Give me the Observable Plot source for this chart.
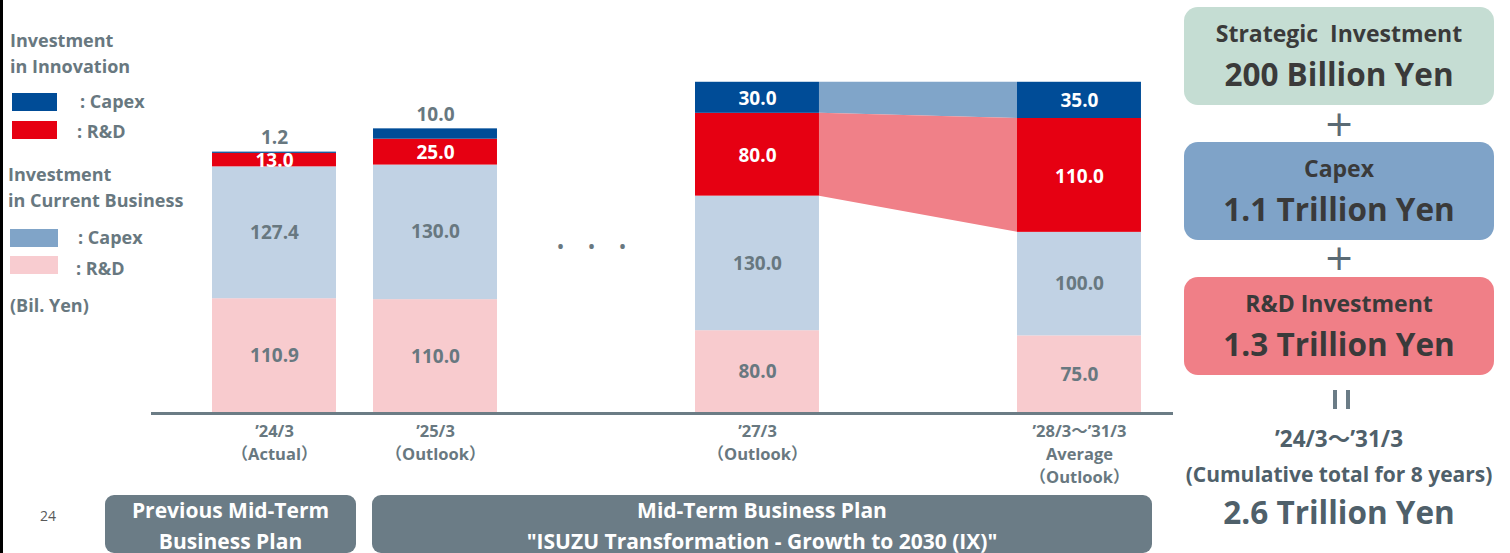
<!DOCTYPE html>
<html>
<head>
<meta charset="utf-8">
<script src="https://cdn.jsdelivr.net/npm/d3@7"></script>
<script src="https://cdn.jsdelivr.net/npm/@observablehq/plot@0.6"></script>
<style>
  html, body { margin: 0; padding: 0; background: #fff; }
  body { width: 1510px; height: 553px; overflow: hidden; position: relative; font-family: "Open Sans", "Noto Sans CJK JP", sans-serif; }
  #border { position: absolute; left: 0; top: 0; width: 3px; height: 553px; background: #000; }
  #chart { position: absolute; left: 0; top: 0; }
  .abs { position: absolute; white-space: nowrap; }
  .leg { font-weight: 700; font-size: 18px; color: #687880; line-height: 26px; }
  .sw { position: absolute; }
  .box { position: absolute; left: 1184px; width: 310px; height: 98px; border-radius: 14px; text-align: center; color: #3a3a3a; font-weight: 700; }
  .box .t1 { position: absolute; left: 0; right: 0; top: 11px; font-size: 23px; line-height: 30px; }
  .box .t2 { position: absolute; left: 0; right: 0; top: 47px; font-size: 31.5px; line-height: 40px; }
  .sym { position: absolute; left: 1184px; width: 310px; text-align: center; color: #5a6a74; }
  .bar2 { position: absolute; top: 390px; width: 4px; height: 19px; background: #6b7c86; }
  .rt { position: absolute; left: 1170px; width: 338px; text-align: center; color: #4f606a; font-weight: 700; }
  .banner { position: absolute; top: 495px; height: 58px; border-radius: 9px; background: #6b7c86; color: #fff; font-weight: 700; font-size: 21px; line-height: 31px; text-align: center; }
</style>
</head>
<body>
<div id="border"></div>
<div id="chart"></div>

<!-- legend -->
<div class="abs leg" style="left:10px; top:27px;">Investment<br>in Innovation</div>
<div class="sw" style="left:12px; top:93px; width:45px; height:18px; background:#004c97;"></div>
<div class="abs leg" style="left:80px; top:88px;">: Capex</div>
<div class="sw" style="left:12px; top:121px; width:45px; height:18px; background:#e60012;"></div>
<div class="abs leg" style="left:77px; top:118px;">: R&amp;D</div>
<div class="abs leg" style="left:8px; top:161px;">Investment<br>in Current Business</div>
<div class="sw" style="left:10px; top:229px; width:48px; height:18px; background:#80a4c8;"></div>
<div class="abs leg" style="left:78px; top:224px;">: Capex</div>
<div class="sw" style="left:10px; top:256px; width:48px; height:18px; background:#f8ccd0;"></div>
<div class="abs leg" style="left:76px; top:255px;">: R&amp;D</div>
<div class="abs leg" style="left:10px; top:292px;">(Bil. Yen)</div>

<!-- page number -->
<div class="abs" style="left:40px; top:506px; font-size:14px; color:#595959;">24</div>

<!-- banners -->
<div class="banner" style="left:105px; width:251px;">Previous Mid-Term<br>Business Plan</div>
<div class="banner" style="left:372px; width:780px;">Mid-Term Business Plan<br>"ISUZU Transformation - Growth to 2030 (IX)"</div>

<!-- right panel -->
<div class="box" style="top:7px; background:#c5ddd3;"><div class="t1">Strategic&nbsp; Investment</div><div class="t2">200 Billion Yen</div></div>
<div class="sym" style="top:104px; font-size:36px; line-height:40px; font-family:'DejaVu Sans';">+</div>
<div class="box" style="top:142px; background:#7fa3c8;"><div class="t1">Capex</div><div class="t2">1.1 Trillion Yen</div></div>
<div class="sym" style="top:238px; font-size:36px; line-height:40px; font-family:'DejaVu Sans';">+</div>
<div class="box" style="top:277px; background:#f07f87;"><div class="t1">R&amp;D Investment</div><div class="t2">1.3 Trillion Yen</div></div>
<div class="bar2" style="left:1333px;"></div>
<div class="bar2" style="left:1346px;"></div>
<div class="rt" style="top:424px; font-size:22.5px; line-height:30px;">’24/3～’31/3</div>
<div class="rt" style="top:459px; font-size:21px; line-height:30px;">(Cumulative total for 8 years)</div>
<div class="rt" style="top:492px; font-size:31.5px; line-height:40px;">2.6 Trillion Yen</div>

<script>
// ---------------- data ----------------
const periods = ["’24/3", "’25/3", "’27/3", "’28/3～’31/3"];
const periodNotes = ["（Actual）", "（Outlook）", "（Outlook）", "Average\n（Outlook）"];
const slots = [0, 1, 3, 5];          // category slot on the x axis (2 and 4 are gaps)
const gapSlot = 2;                   // slot holding the "• • •"
const seriesNames = ["Current R&D", "Current Capex", "Innovation R&D", "Innovation Capex"];
const currentRD = [110.9, 110.0, 80.0, 75.0];
const currentCapex = [127.4, 130.0, 130.0, 100.0];
const innovationRD = [13.0, 25.0, 80.0, 110.0];
const innovationCapex = [1.2, 10.0, 30.0, 35.0];

// ---------------- styles ----------------
const seriesColors = ["#f8cbce", "#c1d2e4", "#e60012", "#004c97"];
const gray = "#687880";
const halfBar = 0.385;

// ---------------- build stacked table ----------------
const seriesValues = [currentRD, currentCapex, innovationRD, innovationCapex];
const rows = periods.flatMap((p, i) => {
  let acc = 0;
  return seriesNames.map((s, k) => {
    const v = seriesValues[k][i];
    const r = {period: p, slot: slots[i], series: s, k, value: v, y1: acc, y2: acc + v};
    acc += v;
    return r;
  });
});
const isInnov = d => d.k >= 2;
const small = d => d.value < 12;

// connector bands between '27/3 and '28/3 (innovation segments)
const ia = 2, ib = 3;
const seg = (i, k) => rows.find(r => r.period === periods[i] && r.k === k);
const connectors = [
  {band: "capex", x: slots[ia] + halfBar, y1: seg(ia, 3).y1, y2: seg(ia, 3).y2},
  {band: "capex", x: slots[ib] - halfBar, y1: seg(ib, 3).y1, y2: seg(ib, 3).y2},
  {band: "rd", x: slots[ia] + halfBar, y1: seg(ia, 2).y1, y2: seg(ia, 2).y2},
  {band: "rd", x: slots[ib] - halfBar, y1: seg(ib, 2).y1, y2: seg(ib, 2).y2}
];

const tickData = periods.map((p, i) => ({slot: slots[i], label: p + "\n" + periodNotes[i]}));

const chart = Plot.plot({
  width: 1510,
  height: 553,
  marginLeft: 151,
  marginRight: 337,
  marginTop: 0,
  marginBottom: 140,
  x: {domain: [-0.764, 5.584], axis: null},
  y: {domain: [0, 399], axis: null},
  color: {domain: seriesNames, range: seriesColors},
  style: {fontFamily: "'Open Sans', 'Noto Sans CJK JP', sans-serif", background: "transparent", overflow: "visible"},
  marks: [
    Plot.areaY(connectors.filter(d => d.band === "capex"), {x: "x", y1: "y1", y2: "y2", fill: "#80a5c9"}),
    Plot.areaY(connectors.filter(d => d.band === "rd"), {x: "x", y1: "y1", y2: "y2", fill: "#f08088"}),
    Plot.rectY(rows, {x1: d => d.slot - halfBar, x2: d => d.slot + halfBar, y1: "y1", y2: "y2", fill: "series"}),
    Plot.ruleY([0], {stroke: "#6b7c85", strokeWidth: 3}),
    // labels inside segments
    Plot.text(rows.filter(d => !small(d) && !isInnov(d)), {x: "slot", y: d => (d.y1 + d.y2) / 2, text: d => d.value.toFixed(1), fill: gray, fontSize: 19, fontWeight: 700}),
    Plot.text(rows.filter(d => !small(d) && isInnov(d)), {x: "slot", y: d => (d.y1 + d.y2) / 2, dy: 1, text: d => d.value.toFixed(1), fill: "white", fontSize: 19, fontWeight: 700}),
    // labels above bars for thin segments
    Plot.text(rows.filter(small), {x: "slot", y: "y2", dy: -8, lineAnchor: "bottom", text: d => d.value.toFixed(1), fill: gray, fontSize: 19, fontWeight: 700}),
    // x tick labels
    Plot.text(tickData, {x: "slot", y: 0, text: "label", lineAnchor: "top", dy: 7, lineHeight: 1.4, fill: gray, fontSize: 16.5, fontWeight: 700}),
    // ellipsis in the gap
    Plot.text([gapSlot], {x: d => d, frameAnchor: "middle", dy: 40, text: () => "•      •      •", fill: gray, fontSize: 16, fontWeight: 700, dx: -5})
  ]
});
document.getElementById("chart").appendChild(chart);
</script>
</body>
</html>
